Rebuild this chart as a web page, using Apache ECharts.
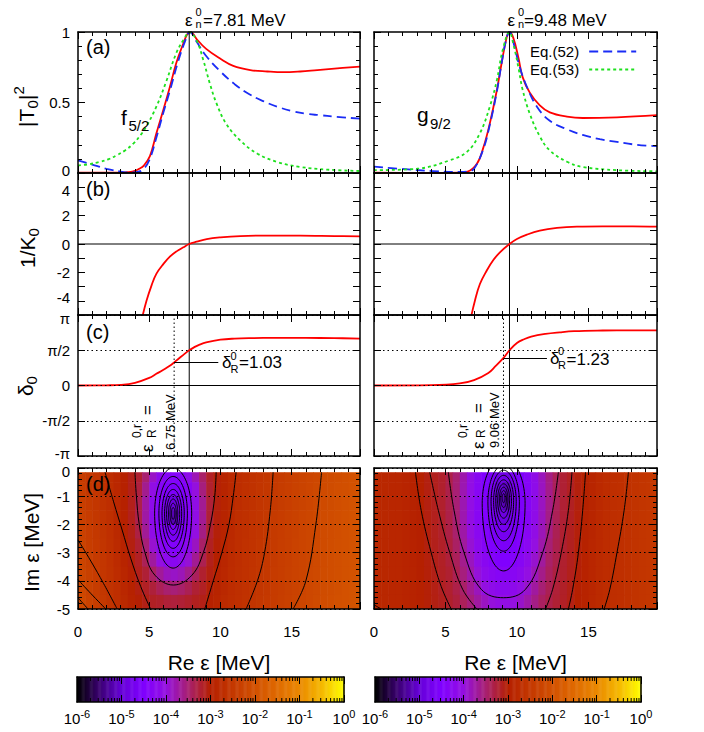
<!DOCTYPE html>
<html>
<head>
<meta charset="utf-8">
<script src="https://cdn.jsdelivr.net/npm/echarts@6/dist/echarts.min.js"></script>
<style>html,body{margin:0;padding:0;background:#fff}#chart{width:704px;height:732px}</style>
</head>
<body>
<div id="chart"></div>
<script>
// ---------- data ----------
const E_N = [7.81, 9.48];        // eps_n^0 (MeV), left / right column
const E_R = [6.75, 9.06];        // eps_R^{0,r} (MeV)
const DELTA_R = [1.03, 1.23];    // delta_R^0
const ARROW_END = [9.85, 12.1];  // where the delta_R arrows stop (MeV)
const X_MAX = 19.8;

// (a) |T0|^2, f5/2
const T2_EXACT_L = [[0,0.003],[1,0.002],[2,0.002],[3,0.003],[3.5,0.006],[4,0.015],[4.3,0.03],[4.6,0.05],[5.05,0.12],[5.5,0.28],[6.0,0.45],[6.45,0.61],[6.9,0.78],[7.4,0.92],[7.65,0.98],[7.86,1.0],[8.1,0.985],[8.33,0.95],[9.0,0.88],[10,0.81],[10.9,0.76],[12.1,0.73],[13.3,0.72],[14.4,0.715],[15.6,0.72],[16.8,0.73],[18,0.74],[19.8,0.755]];
const T2_EQ52_L = [[0,0.09],[1,0.06],[2,0.03],[3,0.01],[3.5,0.004],[4.0,0.005],[4.5,0.02],[5.0,0.09],[5.5,0.25],[6.0,0.43],[6.5,0.6],[7.0,0.78],[7.5,0.93],[7.86,1.0],[8.33,0.93],[9,0.83],[10,0.72],[11,0.63],[12,0.56],[13,0.51],[14,0.47],[15,0.44],[16,0.42],[17,0.41],[18,0.40],[19.8,0.385]];
const T2_EQ53_L = [[0,0.054],[0.75,0.062],[1.5,0.078],[2.2,0.10],[2.7,0.125],[3.3,0.16],[3.9,0.21],[4.4,0.27],[4.8,0.33],[5.5,0.47],[6.2,0.65],[6.9,0.85],[7.5,0.96],[7.81,1.0],[8.33,0.94],[8.8,0.80],[9.27,0.63],[9.74,0.49],[10.4,0.35],[11.4,0.23],[12.6,0.137],[14,0.078],[15.6,0.043],[17.5,0.024],[19.8,0.014]];
// (a) |T0|^2, g9/2
const T2_EXACT_R = [[0,0.002],[3,0.001],[6,0.003],[6.5,0.008],[7.2,0.066],[7.65,0.18],[8.1,0.35],[8.6,0.59],[8.93,0.78],[9.28,0.96],[9.48,1.0],[9.74,0.96],[10.1,0.82],[10.4,0.68],[10.9,0.57],[11.6,0.48],[12.3,0.43],[13.5,0.40],[14.6,0.39],[17,0.395],[19.8,0.41]];
const T2_EQ52_R = [[0,0.045],[1.8,0.03],[4.1,0.014],[6.0,0.007],[6.6,0.012],[7.0,0.03],[7.65,0.17],[8.1,0.34],[8.6,0.58],[8.93,0.78],[9.28,0.96],[9.48,1.0],[9.74,0.93],[10.2,0.75],[10.7,0.61],[11.4,0.47],[12.3,0.37],[13.5,0.31],[14.6,0.27],[15.8,0.24],[17,0.22],[18.4,0.20],[19.8,0.19]];
const T2_EQ53_R = [[0,0.02],[3,0.03],[5.3,0.09],[6.5,0.15],[7.4,0.28],[8.1,0.47],[8.6,0.66],[9.0,0.87],[9.48,1.0],[9.74,0.92],[10.1,0.75],[10.4,0.59],[10.9,0.42],[11.6,0.26],[12.3,0.16],[13.5,0.08],[14.6,0.043],[17,0.02],[19.8,0.012]];

// (b) 1/K0
const INV_K_L = [[4.5,-5.2],[4.81,-4.0],[5.16,-2.93],[5.5,-2.1],[6.0,-1.4],[6.45,-0.89],[6.92,-0.52],[7.4,-0.23],[7.81,0],[8.33,0.16],[9.04,0.35],[10,0.47],[11.4,0.56],[13.3,0.59],[15.6,0.59],[18,0.56],[19.8,0.54]];
const INV_K_R = [[6.8,-5.1],[7.06,-3.99],[7.41,-2.82],[7.88,-1.88],[8.35,-1.13],[8.81,-0.59],[9.48,0],[10.0,0.35],[10.7,0.66],[11.6,0.94],[12.8,1.13],[14.2,1.22],[16.0,1.24],[18.1,1.24],[19.8,1.22]];

// (c) delta_0
const DELTA_L = [[0,0],[2,0.01],[3,0.03],[4,0.12],[5,0.34],[5.5,0.52],[6.0,0.70],[6.5,0.90],[6.75,1.03],[7.0,1.16],[7.5,1.42],[7.81,1.57],[8.2,1.72],[8.5,1.81],[9,1.92],[10,2.04],[11,2.09],[12,2.11],[14,2.12],[16,2.12],[18,2.11],[19.8,2.09]];
const DELTA_R_CURVE = [[0,0],[4,0.015],[6,0.09],[7,0.24],[8,0.56],[8.5,0.86],[9.06,1.23],[9.48,1.57],[10,1.89],[10.5,2.06],[11,2.18],[12,2.30],[13,2.37],[14,2.42],[16,2.45],[18,2.46],[19.8,2.46]];

// (d) log10 of the modulus on the complex energy plane, rows from Im = -0.25 down to -4.75,
// columns from Re = 0.25 to 19.75 in steps of 0.5 MeV
const HEAT_X0 = 0.25, HEAT_DX = 0.5, HEAT_Y0 = -0.25, HEAT_DY = -0.5, IM_TOP = -0.15;
const HEAT_L = [
 [-2.44,-2.51,-2.59,-2.66,-2.74,-2.85,-2.98,-3.11,-3.22,-3.50,-3.88,-4.20,-4.37,-4.41,-4.35,-4.14,-3.81,-3.46,-3.17,-3.04,-2.92,-2.81,-2.73,-2.68,-2.63,-2.58,-2.53,-2.48,-2.43,-2.38,-2.33,-2.28,-2.23,-2.18,-2.13,-2.10,-2.06,-2.02,-1.98,-1.94],
 [-2.41,-2.49,-2.57,-2.64,-2.72,-2.85,-2.98,-3.11,-3.28,-3.64,-4.07,-4.37,-4.52,-4.58,-4.50,-4.33,-3.99,-3.56,-3.21,-3.05,-2.92,-2.81,-2.72,-2.67,-2.62,-2.57,-2.52,-2.47,-2.42,-2.37,-2.32,-2.27,-2.22,-2.17,-2.12,-2.09,-2.05,-2.02,-1.98,-1.94],
 [-2.38,-2.46,-2.55,-2.62,-2.71,-2.85,-2.98,-3.12,-3.33,-3.73,-4.18,-4.45,-4.65,-4.88,-4.61,-4.41,-4.09,-3.65,-3.25,-3.06,-2.92,-2.82,-2.72,-2.67,-2.62,-2.57,-2.52,-2.47,-2.42,-2.37,-2.32,-2.27,-2.22,-2.17,-2.12,-2.09,-2.05,-2.01,-1.97,-1.93],
 [-2.35,-2.44,-2.53,-2.61,-2.69,-2.83,-2.97,-3.12,-3.33,-3.73,-4.18,-4.45,-4.67,-5.18,-4.63,-4.41,-4.10,-3.66,-3.25,-3.05,-2.92,-2.81,-2.71,-2.66,-2.61,-2.56,-2.51,-2.46,-2.41,-2.36,-2.31,-2.26,-2.21,-2.16,-2.11,-2.08,-2.04,-2.01,-1.97,-1.93],
 [-2.32,-2.41,-2.51,-2.59,-2.68,-2.82,-2.96,-3.10,-3.30,-3.67,-4.11,-4.40,-4.57,-4.64,-4.54,-4.36,-4.02,-3.59,-3.21,-3.04,-2.91,-2.81,-2.71,-2.66,-2.61,-2.56,-2.51,-2.46,-2.41,-2.36,-2.31,-2.26,-2.21,-2.16,-2.11,-2.08,-2.04,-2.00,-1.97,-1.93],
 [-2.28,-2.39,-2.48,-2.57,-2.66,-2.80,-2.93,-3.07,-3.22,-3.53,-3.93,-4.27,-4.41,-4.45,-4.39,-4.21,-3.86,-3.46,-3.15,-3.02,-2.89,-2.79,-2.70,-2.65,-2.60,-2.55,-2.50,-2.45,-2.40,-2.35,-2.30,-2.25,-2.20,-2.15,-2.10,-2.07,-2.03,-2.00,-1.96,-1.92],
 [-2.25,-2.36,-2.46,-2.55,-2.65,-2.78,-2.91,-3.04,-3.16,-3.39,-3.71,-4.00,-4.21,-4.27,-4.17,-3.95,-3.65,-3.36,-3.12,-2.99,-2.88,-2.78,-2.70,-2.65,-2.60,-2.55,-2.50,-2.45,-2.40,-2.35,-2.30,-2.25,-2.20,-2.15,-2.10,-2.07,-2.03,-1.99,-1.96,-1.92],
 [-2.22,-2.34,-2.44,-2.54,-2.63,-2.74,-2.88,-3.01,-3.12,-3.24,-3.44,-3.68,-3.84,-3.89,-3.82,-3.64,-3.41,-3.21,-3.07,-2.95,-2.85,-2.75,-2.69,-2.64,-2.59,-2.54,-2.49,-2.44,-2.39,-2.34,-2.29,-2.24,-2.19,-2.14,-2.09,-2.06,-2.02,-1.99,-1.96,-1.92],
 [-2.19,-2.31,-2.42,-2.52,-2.62,-2.71,-2.85,-2.96,-3.07,-3.16,-3.26,-3.39,-3.49,-3.53,-3.47,-3.37,-3.23,-3.16,-3.03,-2.92,-2.83,-2.74,-2.69,-2.64,-2.59,-2.54,-2.49,-2.44,-2.39,-2.34,-2.29,-2.24,-2.19,-2.14,-2.09,-2.06,-2.02,-1.98,-1.95,-1.91],
 [-2.16,-2.29,-2.40,-2.50,-2.60,-2.70,-2.82,-2.93,-3.02,-3.10,-3.16,-3.19,-3.25,-3.27,-3.24,-3.19,-3.14,-3.10,-2.98,-2.89,-2.79,-2.73,-2.68,-2.63,-2.58,-2.53,-2.48,-2.43,-2.38,-2.33,-2.28,-2.23,-2.18,-2.13,-2.08,-2.05,-2.01,-1.98,-1.95,-1.91]
];
const HEAT_R = [
 [-2.85,-2.86,-2.87,-2.88,-2.91,-2.96,-3.00,-3.07,-3.13,-3.19,-3.32,-3.50,-3.77,-4.04,-4.29,-4.49,-4.62,-4.77,-4.83,-4.66,-4.53,-4.35,-4.12,-3.84,-3.59,-3.39,-3.23,-3.15,-3.05,-2.96,-2.89,-2.81,-2.75,-2.71,-2.68,-2.64,-2.60,-2.57,-2.54,-2.51],
 [-2.85,-2.86,-2.87,-2.88,-2.91,-2.96,-3.00,-3.07,-3.13,-3.20,-3.33,-3.52,-3.79,-4.06,-4.31,-4.52,-4.66,-4.98,-5.12,-4.70,-4.56,-4.37,-4.14,-3.86,-3.61,-3.40,-3.23,-3.15,-3.06,-2.96,-2.89,-2.81,-2.75,-2.71,-2.68,-2.64,-2.60,-2.57,-2.54,-2.51],
 [-2.85,-2.86,-2.87,-2.88,-2.91,-2.96,-3.00,-3.07,-3.13,-3.20,-3.33,-3.52,-3.79,-4.06,-4.31,-4.52,-4.66,-5.01,-5.18,-4.70,-4.56,-4.37,-4.14,-3.86,-3.61,-3.40,-3.23,-3.15,-3.06,-2.96,-2.89,-2.81,-2.75,-2.71,-2.68,-2.64,-2.60,-2.57,-2.54,-2.51],
 [-2.85,-2.86,-2.87,-2.88,-2.91,-2.96,-3.00,-3.07,-3.13,-3.19,-3.32,-3.51,-3.78,-4.05,-4.30,-4.50,-4.63,-4.83,-4.89,-4.67,-4.54,-4.36,-4.13,-3.85,-3.60,-3.39,-3.23,-3.15,-3.05,-2.96,-2.89,-2.81,-2.75,-2.71,-2.68,-2.64,-2.60,-2.57,-2.54,-2.51],
 [-2.85,-2.86,-2.87,-2.88,-2.91,-2.96,-3.00,-3.06,-3.13,-3.19,-3.31,-3.48,-3.74,-4.00,-4.25,-4.45,-4.58,-4.67,-4.68,-4.61,-4.50,-4.31,-4.08,-3.82,-3.57,-3.37,-3.22,-3.14,-3.05,-2.96,-2.89,-2.81,-2.75,-2.71,-2.68,-2.64,-2.60,-2.57,-2.54,-2.51],
 [-2.85,-2.86,-2.87,-2.88,-2.91,-2.95,-3.00,-3.06,-3.12,-3.18,-3.28,-3.44,-3.70,-3.94,-4.19,-4.37,-4.51,-4.58,-4.59,-4.54,-4.42,-4.25,-4.01,-3.76,-3.52,-3.35,-3.22,-3.14,-3.04,-2.96,-2.88,-2.81,-2.75,-2.71,-2.68,-2.64,-2.60,-2.57,-2.54,-2.51],
 [-2.85,-2.86,-2.87,-2.88,-2.91,-2.95,-2.99,-3.05,-3.11,-3.17,-3.26,-3.40,-3.63,-3.85,-4.09,-4.28,-4.40,-4.49,-4.50,-4.43,-4.32,-4.15,-3.92,-3.70,-3.46,-3.33,-3.21,-3.13,-3.04,-2.95,-2.88,-2.80,-2.75,-2.71,-2.68,-2.64,-2.60,-2.57,-2.54,-2.51],
 [-2.85,-2.86,-2.87,-2.88,-2.91,-2.94,-2.99,-3.04,-3.10,-3.16,-3.22,-3.36,-3.56,-3.76,-3.97,-4.17,-4.28,-4.35,-4.36,-4.31,-4.21,-4.03,-3.82,-3.61,-3.42,-3.29,-3.20,-3.12,-3.03,-2.95,-2.87,-2.80,-2.75,-2.71,-2.68,-2.64,-2.60,-2.57,-2.54,-2.51],
 [-2.85,-2.86,-2.87,-2.88,-2.91,-2.94,-2.98,-3.03,-3.09,-3.15,-3.21,-3.32,-3.46,-3.66,-3.84,-4.02,-4.14,-4.22,-4.22,-4.18,-4.06,-3.90,-3.71,-3.52,-3.37,-3.25,-3.18,-3.10,-3.01,-2.94,-2.87,-2.79,-2.75,-2.71,-2.68,-2.64,-2.60,-2.57,-2.54,-2.51],
 [-2.85,-2.86,-2.87,-2.88,-2.91,-2.93,-2.97,-3.03,-3.08,-3.13,-3.19,-3.27,-3.40,-3.55,-3.72,-3.86,-3.98,-4.05,-4.06,-4.00,-3.90,-3.76,-3.60,-3.43,-3.32,-3.23,-3.17,-3.09,-3.00,-2.93,-2.86,-2.79,-2.75,-2.71,-2.68,-2.64,-2.60,-2.57,-2.54,-2.51]
];

// closed contour rings: [centre Re, centre Im, half-width, half-height above, half-height below]
const RINGS_L = [
 [6.68,-1.60,0.12,0.20,0.22],[6.68,-1.60,0.22,0.35,0.40],[6.68,-1.60,0.33,0.50,0.58],
 [6.68,-1.60,0.46,0.66,0.78],[6.68,-1.60,0.60,0.84,1.00],[6.68,-1.60,0.78,1.05,1.25],
 [6.68,-1.60,1.00,1.30,1.55],[6.68,-1.60,1.30,1.60,1.95]
];
const RINGS_R = [
 [9.07,-1.06,0.10,0.15,0.17],[9.07,-1.08,0.20,0.28,0.32],[9.07,-1.10,0.30,0.42,0.48],
 [9.07,-1.12,0.42,0.56,0.66],[9.07,-1.14,0.55,0.72,0.86],[9.07,-1.16,0.70,0.90,1.10],
 [9.07,-1.18,0.88,1.10,1.40],[9.07,-1.20,1.10,1.30,1.75],[9.07,-1.25,1.50,1.60,2.40]
];
// open contour lines
const CONTOURS_L = [
 [[0,-2.55],[0.9,-3.3],[1.8,-4.1],[2.75,-5]],
 [[0,-3.96],[0.9,-4.45],[1.95,-5]],
 [[0,-4.6],[0.7,-5]],
 [[1.9,-0.15],[2.5,-1.2],[3.1,-2.2],[3.7,-3.2],[4.4,-4.2],[5.1,-5]],
 [[4.0,-0.15],[4.1,-1],[4.3,-2],[4.7,-3],[5.4,-3.8],[6.7,-4.15],[8.0,-3.8],[8.8,-3],[9.3,-2],[9.6,-1],[9.7,-0.15]],
 [[11.1,-0.15],[10.9,-1],[10.6,-2],[10.1,-3],[9.5,-4],[8.9,-5]],
 [[13.7,-0.15],[13.5,-1.5],[13.1,-3],[12.6,-4],[11.8,-5]],
 [[17.1,-0.15],[16.7,-2],[16.0,-4],[15.1,-5]]
];
const CONTOURS_R = [
 [[0,-4.85],[0.5,-5]],
 [[2.9,-0.15],[3.3,-1.5],[4.0,-3],[4.7,-4.2],[5.4,-5]],
 [[3.9,-0.15],[4.5,-1.5],[5.3,-3],[6.2,-4.3],[7.2,-5]],
 [[5.2,-0.15],[5.6,-1.5],[6.3,-3],[7.5,-4.3],[9.07,-4.6],[10.6,-4.3],[11.8,-3],[12.5,-1.5],[12.9,-0.15]],
 [[13.85,-0.15],[13.6,-1.5],[13.1,-3],[12.5,-4.3],[12.0,-5]],
 [[14.8,-0.15],[14.6,-1.5],[14.3,-3],[13.9,-4.3],[13.6,-5]],
 [[17.8,-0.15],[17.5,-1.5],[17.0,-3],[16.5,-4.3],[16.1,-5]]
];

// colour bar
const CB_DECADES = [-6, -5, -4, -3, -2, -1, 0];
const PALETTE = ['#000000','#3a0070','#6600d8','#8000ff','#9410e0','#a82070','#b52000','#c43800','#d25000','#df6a00','#ea8800','#f5b800','#ffff00'];

// ---------- layout ----------
const FONT = '"Liberation Sans", Arial, Helvetica, sans-serif';
const PI = Math.PI;
const COL_X = [78, 374], COL_W = [282, 283];
const ROW_Y = [32, 173, 315, 468], ROW_H = [141, 142, 141, 141];
const CB_X = [77, 375], CB_W = [267, 266], CB_Y = 677, CB_H = 25;

const AXIS_LINE = {show: true, onZero: false, lineStyle: {color: '#000', width: 1.5}};
const TICK = {show: true, inside: true, length: 7, lineStyle: {color: '#000', width: 1}};
const MINOR = {show: true, inside: true, splitNumber: 5, length: 4, lineStyle: {color: '#000', width: 1}};
const LABEL = {color: '#000', fontFamily: FONT, fontSize: 15};
// labels sitting at a shared panel edge are nudged apart a little
const EDGE_RICH = {
  up: {fontFamily: FONT, fontSize: 15, color: '#000', padding: [0, 0, 6, 0]},
  dn: {fontFamily: FONT, fontSize: 15, color: '#000', padding: [6, 0, 0, 0]}
};

const grids = [], xAxes = [], yAxes = [], series = [];

const Y_SPECS = [
  {min: 0, max: 1, interval: 0.5, minor: true,
   fmt: v => (v === 0 ? '{up|0}' : v === 0.5 ? '0.5' : v === 1 ? '1' : '')},
  {min: -5, max: 5, interval: 1, minor: false,
   fmt: v => (v === 4 ? '{dn|4}' : v === -4 ? '{up|-4}' : (Math.abs(v) < 5 && v % 2 === 0 ? String(v) : ''))},
  {min: -PI, max: PI, interval: PI / 2, minor: false, split: true,
   fmt: v => ['{up|-π}', '-π/2', '0', 'π/2', '{dn|π}'][Math.round(v / (PI / 2)) + 2] || ''},
  {min: -5, max: 0, interval: 1, minor: true, split: true,
   fmt: v => (Math.round(v) === 0 ? '{dn|0}' : String(Math.round(v)))}
];

for (let r = 0; r < 4; r++) {
  for (let c = 0; c < 2; c++) {
    const g = grids.length;
    grids.push({left: COL_X[c], top: ROW_Y[r], width: COL_W[c], height: ROW_H[r], outerBoundsMode: 'none'});
    const xBase = {gridIndex: g, type: 'value', min: 0, max: X_MAX, interval: 5, z: 10,
      axisLine: AXIS_LINE, axisTick: TICK, minorTick: MINOR, splitLine: {show: false}};
    xAxes.push(Object.assign({}, xBase, {position: 'bottom',
      axisLabel: Object.assign({show: r === 3, margin: 15, showMaxLabel: false,
        formatter: v => (v % 5 === 0 ? String(v) : '')}, LABEL)}));
    xAxes.push(Object.assign({}, xBase, {position: 'top', axisLabel: {show: false}}));
    const ys = Y_SPECS[r];
    const yBase = {gridIndex: g, type: 'value', min: ys.min, max: ys.max, interval: ys.interval, z: 10,
      axisLine: AXIS_LINE, axisTick: TICK,
      minorTick: ys.minor ? MINOR : {show: false}};
    yAxes.push(Object.assign({}, yBase, {position: 'left',
      splitLine: ys.split ? {show: true, lineStyle: {color: '#000', width: 1, type: [1.5, 3]}} : {show: false},
      axisLabel: Object.assign({show: c === 0, margin: 8, formatter: ys.fmt, rich: EDGE_RICH,
        showMinLabel: true, showMaxLabel: true}, LABEL)}));
    yAxes.push(Object.assign({}, yBase, {position: 'right', splitLine: {show: false}, axisLabel: {show: false}}));
  }
}
// colour bar grids (8, 9)
for (let c = 0; c < 2; c++) {
  const g = grids.length;
  grids.push({left: CB_X[c], top: CB_Y, width: CB_W[c], height: CB_H, outerBoundsMode: 'none'});
  const xb = {gridIndex: g, type: 'value', min: -6, max: 0, interval: 1, z: 10,
    axisLine: AXIS_LINE, axisTick: TICK, minorTick: {show: false}, splitLine: {show: false}};
  xAxes.push(Object.assign({}, xb, {position: 'bottom', axisLabel: {show: true, margin: 6, hideOverlap: false,
    formatter: v => '{b|10}{s|' + Math.round(v) + '}',
    rich: {b: {fontFamily: FONT, fontSize: 15, color: '#000'},
           s: {fontFamily: FONT, fontSize: 11, color: '#000', padding: [0, 0, 10, 0]}}}}));
  xAxes.push(Object.assign({}, xb, {position: 'top', axisLabel: {show: false}}));
  const yb = {gridIndex: g, type: 'value', min: 0, max: 1, z: 10, axisLine: AXIS_LINE,
    axisTick: {show: false}, axisLabel: {show: false}, splitLine: {show: false}};
  yAxes.push(Object.assign({}, yb, {position: 'left'}));
  yAxes.push(Object.assign({}, yb, {position: 'right'}));
}

function onGrid(g) { return {xAxisIndex: 2 * g, yAxisIndex: 2 * g}; }
function line(g, data, style, extra) {
  return Object.assign({type: 'line', data: data, symbol: 'none', animation: false, silent: true,
    lineStyle: style}, onGrid(g), extra || {});
}
const RED = {color: '#ff0000', width: 1.8};
const BLUE = {color: '#1a2cf5', width: 1.8, type: [9, 5]};
const GREEN = {color: '#1ee01e', width: 1.8, type: [3, 3]};
const THIN = {color: '#000', width: 1};
const SMOOTH = {smooth: 0.4};

const T2 = [[T2_EXACT_L, T2_EQ52_L, T2_EQ53_L], [T2_EXACT_R, T2_EQ52_R, T2_EQ53_R]];
const INV_K = [INV_K_L, INV_K_R];
const DELTA = [DELTA_L, DELTA_R_CURVE];
const HEAT = [HEAT_L, HEAT_R];
const RINGS = [RINGS_L, RINGS_R];
const CONTOURS = [CONTOURS_L, CONTOURS_R];
const visualSeries = [];

function cellItem(params, api) {
  const x = api.value(0), y = api.value(1);
  const top = Math.min(y - HEAT_DY / 2, IM_TOP);
  const p0 = api.coord([x - HEAT_DX / 2, top]);
  const p1 = api.coord([x + HEAT_DX / 2, y + HEAT_DY / 2]);
  const cs = params.coordSys;
  const shape = echarts.graphic.clipRectByRect(
    {x: p0[0], y: p0[1], width: p1[0] - p0[0] + 0.6, height: p1[1] - p0[1] + 0.6},
    {x: cs.x, y: cs.y, width: cs.width, height: cs.height});
  return shape && {type: 'rect', shape: shape, style: {fill: api.visual('color')}};
}
function ringItem(params, api) {
  const cx = api.value(0), cy = api.value(1), rx = api.value(2), rt = api.value(3), rb = api.value(4);
  const pts = [];
  for (let i = 0; i <= 96; i++) {
    const t = i / 96 * 2 * PI, s = Math.sin(t);
    pts.push(api.coord([cx + rx * Math.cos(t), cy + (s > 0 ? rt : rb) * s]));
  }
  return {type: 'polyline', shape: {points: pts}, style: {stroke: '#000', lineWidth: 1, fill: null}};
}
function cbItem(params, api) {
  const a = api.coord([api.value(0), 1]), b = api.coord([api.value(1), 0]);
  return {type: 'rect', shape: {x: a[0], y: a[1], width: b[0] - a[0] + 0.5, height: b[1] - a[1]},
    style: {fill: api.visual('color')}};
}
function cbTickItem(params, api) {
  const top = api.coord([api.value(0), 1]), bot = api.coord([api.value(0), 0]);
  return {type: 'group', children: [
    {type: 'line', shape: {x1: top[0], y1: top[1], x2: top[0], y2: top[1] + 4}, style: {stroke: '#000', lineWidth: 1}},
    {type: 'line', shape: {x1: bot[0], y1: bot[1], x2: bot[0], y2: bot[1] - 4}, style: {stroke: '#000', lineWidth: 1}}]};
}

for (let c = 0; c < 2; c++) {
  const ga = c, gb = 2 + c, gc = 4 + c, gd = 6 + c;
  // (a)
  series.push(line(ga, T2[c][0], RED, Object.assign({name: 'exact'}, SMOOTH)));
  series.push(line(ga, T2[c][1], BLUE, Object.assign({name: 'Eq.(52)', color: BLUE.color}, SMOOTH)));
  series.push(line(ga, T2[c][2], GREEN, Object.assign({name: 'Eq.(53)', color: GREEN.color}, SMOOTH)));
  series.push(line(ga, [[E_N[c], 0], [E_N[c], 1]], THIN));
  // (b)
  series.push(line(gb, [[0, 0], [X_MAX, 0]], THIN));
  series.push(line(gb, [[E_N[c], -5], [E_N[c], 5]], THIN));
  series.push(line(gb, INV_K[c], RED, SMOOTH));
  // (c)
  series.push(line(gc, [[0, 0], [X_MAX, 0]], THIN));
  series.push(line(gc, [[E_N[c], -PI], [E_N[c], PI]], THIN));
  series.push(line(gc, [[E_R[c], -PI], [E_R[c], PI]], {color: '#000', width: 1, type: [1.5, 2.5]}));
  series.push(line(gc, DELTA[c], RED, Object.assign({
    markLine: {silent: true, animation: false, symbol: ['none', 'arrow'], symbolSize: [0, 12],
      label: {show: false}, lineStyle: {color: '#000', width: 1, type: 'solid'},
      data: [[{coord: [E_R[c], DELTA_R[c]]}, {coord: [ARROW_END[c], DELTA_R[c]]}]]}}, SMOOTH)));
  // (d)
  const cells = [];
  HEAT[c].forEach((row, i) => row.forEach((v, j) => cells.push([HEAT_X0 + j * HEAT_DX, HEAT_Y0 + i * HEAT_DY, v])));
  visualSeries.push(series.length);
  series.push(Object.assign({type: 'custom', renderItem: cellItem, data: cells, z: 1, animation: false, silent: true,
    encode: {x: 0, y: 1}}, onGrid(gd)));
  series.push(Object.assign({type: 'custom', renderItem: ringItem, data: RINGS[c], clip: true, z: 3, animation: false,
    silent: true, encode: {x: 0, y: 1}}, onGrid(gd)));
  CONTOURS[c].forEach(cv => series.push(line(gd, cv, THIN, {smooth: 0.4, z: 3})));
  // colour bar
  const gcb = 8 + c;
  const steps = [];
  for (let i = 0; i < 300; i++) { const v0 = -6 + i * 0.02; steps.push([v0, v0 + 0.02, v0 + 0.01]); }
  visualSeries.push(series.length);
  series.push(Object.assign({type: 'custom', renderItem: cbItem, data: steps, z: 1, animation: false, silent: true,
    encode: {x: 0}}, onGrid(gcb)));
  const minors = [];
  CB_DECADES.slice(0, -1).forEach(d => { for (let k = 2; k <= 9; k++) minors.push([d + Math.log10(k)]); });
  series.push(Object.assign({type: 'custom', renderItem: cbTickItem, data: minors, z: 4, animation: false, silent: true,
    encode: {x: 0}}, onGrid(gcb)));
}

// ---------- text ----------
function t(x, y, text, size, align) {
  return {type: 'text', x: x, y: y, z: 100, silent: true,
    style: {text: text, font: size + 'px ' + FONT, fill: '#000', textAlign: align || 'left', textVerticalAlign: 'middle'}};
}
function rot(x, y, children) { return {type: 'group', x: x, y: y, rotation: PI / 2, z: 100, children: children}; }

const graphics = [
  // column titles
  t(185, 20.5, 'ε', 17), t(195.5, 11.8, '0', 11), t(195.5, 24.4, 'n', 11), t(203, 20, '=' + E_N[0] + ' MeV', 17),
  t(507.5, 20.5, 'ε', 17), t(518, 11.8, '0', 11), t(518, 24.4, 'n', 11), t(524, 20, '=' + E_N[1] + ' MeV', 17),
  // panel letters
  t(86, 47, '(a)', 20), t(86, 189, '(b)', 20), t(86, 332, '(c)', 20), t(86, 484, '(d)', 20),
  // partial waves
  t(121, 117, 'f', 21), t(128.5, 125, '5/2', 15),
  t(417, 114, 'g', 21), t(430, 123, '9/2', 15),
  // delta_R labels
  t(222, 362, 'δ', 17), t(230.5, 355.5, '0', 11), t(230.5, 369, 'R', 11), t(239, 362.5, '=' + DELTA_R[0].toFixed(2), 17),
  t(550, 358, 'δ', 17), t(558, 351, '0', 11), t(558, 364.5, 'R', 11), t(566.5, 359, '=' + DELTA_R[1].toFixed(2), 17),
  // eps_R labels (vertical)
  rot(147.5, 452, [t(0, 0, 'ε', 17), t(14, -11, '0,r', 12), t(14, 4, 'R', 12), t(37, 0, '=', 17), t(2, 22.5, E_R[0].toFixed(2) + ' MeV', 13)]),
  rot(478, 449, [t(0, 0, 'ε', 17), t(11, -15, '0,r', 12), t(11, 3, 'R', 12), t(36, 0, '=', 17), t(1, 16, E_R[1].toFixed(2) + ' MeV', 13)]),
  // axis titles
  rot(26, 127, [t(0, 0, '|T', 21), t(18.5, 6, '0', 15), t(27, 0, '|', 21), t(32.5, -8, '2', 15)]),
  rot(27, 268, [t(0, 0, '1/K', 21), t(31.5, 6, '0', 15)]),
  rot(25, 396, [t(0, 0, 'δ', 21), t(11.5, 6, '0', 15)]),
  rot(31, 592, [t(0, 0, 'Im ε [MeV]', 21)]),
  t(219, 662, 'Re ε [MeV]', 21, 'center'), t(515.5, 662, 'Re ε [MeV]', 21, 'center')
];

const chart = echarts.init(document.getElementById('chart'), null, {renderer: 'svg', width: 704, height: 732});
chart.setOption({
  animation: false,
  backgroundColor: '#fff',
  grid: grids, xAxis: xAxes, yAxis: yAxes, series: series,
  visualMap: [{type: 'continuous', show: false, min: -6, max: 0, dimension: 2, seriesIndex: visualSeries,
    inRange: {color: PALETTE}}],
  legend: {data: ['Eq.(52)', 'Eq.(53)'], orient: 'vertical', left: 525, top: 39, align: 'right',
    itemWidth: 47, itemHeight: 12, itemGap: 3, selectedMode: false, itemStyle: {opacity: 0},
    textStyle: {fontFamily: FONT, fontSize: 15, lineHeight: 14, color: '#000', padding: [0, 5, 0, 0]}},
  graphic: graphics
});
</script>
</body>
</html>
